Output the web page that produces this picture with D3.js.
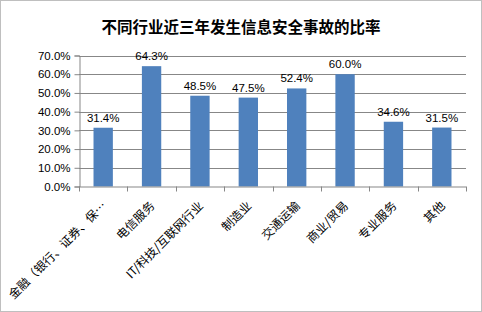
<!DOCTYPE html>
<html>
<head>
<meta charset="utf-8">
<script src="https://cdn.jsdelivr.net/npm/d3@7"></script>
<style>
  body { margin: 0; background: #fff; }
  svg { display: block; }
</style>
</head>
<body>
<div id="chart"></div>
<script>
// Data
var categories = ['金融（银行、证券、保…', '电信服务', 'IT/科技/互联网行业', '制造业', '交通运输', '商业/贸易', '专业服务', '其他'];
var values = [31.4, 64.3, 48.5, 47.5, 52.4, 60.0, 34.6, 31.5];
var yTicks = [0, 10, 20, 30, 40, 50, 60, 70];
var title = '不同行业近三年发生信息安全事故的比率';

var w = 482, h = 312;
var plotLeft = 79, plotRight = 466, plotTop = 55.5, plotBottom = 186.5;
var cjk = '"Noto Sans CJK SC", "Noto Sans", sans-serif';
var latin = '"Liberation Sans", Arial, sans-serif';

var svg = d3.select('#chart').append('svg')
    .attr('width', w)
    .attr('height', h)
;

// Border
svg.append('rect')
    .attr('x', 0.5).attr('y', 0.5)
    .attr('width', w - 1).attr('height', h - 1)
    .attr('fill', '#fff')
    .attr('stroke', '#bfbfbf')
;

// Title
svg.append('text')
    .attr('x', w / 2)
    .attr('y', 33)
    .attr('text-anchor', 'middle')
    .attr('font-family', cjk)
    .attr('font-weight', 'bold')
    .attr('font-size', '15.5px')
    .attr('fill', '#000')
    .text(title)
;

// Scales
var x = d3.scaleBand()
    .domain(categories)
    .range([plotLeft, plotRight])
    .paddingInner(0.6)
    .paddingOuter(0.3)
;
var y = d3.scaleLinear()
    .domain([0, 70])
    .range([plotBottom, plotTop])
;

// Grid
svg.append('g').selectAll('line')
    .data(yTicks.slice(1))
    .enter()
    .append('line')
    .attr('x1', plotLeft).attr('x2', plotRight)
    .attr('y1', function (d) { return Math.round(y(d)) + 0.5; })
    .attr('y2', function (d) { return Math.round(y(d)) + 0.5; })
    .attr('stroke', '#878787')
;

// Y axis
var yAxis = svg.append('g')
    .attr('transform', 'translate(' + (plotLeft + 0.5) + ',0)')
    .call(d3.axisLeft(y).tickValues(yTicks).tickSize(5).tickFormat(function (d) { return d.toFixed(1) + '%'; }))
;
yAxis.select('.domain').attr('stroke', '#878787');
yAxis.selectAll('.tick line').attr('stroke', '#878787');
yAxis.selectAll('.tick text')
    .attr('x', -9)
    .attr('font-family', latin)
    .attr('font-size', '11.5px')
    .attr('fill', '#000')
;

// Bars
svg.selectAll('rect.bar')
    .data(values)
    .enter()
    .append('rect')
    .attr('class', 'bar')
    .attr('x', function (d, i) { return x(categories[i]); })
    .attr('y', function (d) { return y(d); })
    .attr('width', x.bandwidth())
    .attr('height', function (d) { return y(0) - y(d); })
    .attr('fill', '#4f81bd')
;

// X axis
var step = (plotRight - plotLeft) / categories.length;
var xAxis = svg.append('g');
xAxis.append('line')
    .attr('x1', plotLeft).attr('x2', plotRight)
    .attr('y1', plotBottom + 0.5).attr('y2', plotBottom + 0.5)
    .attr('stroke', '#878787')
;
xAxis.selectAll('line.tk')
    .data(d3.range(categories.length + 1))
    .enter()
    .append('line')
    .attr('class', 'tk')
    .attr('x1', function (d) { return Math.round(plotLeft + d * step) + 0.5; })
    .attr('x2', function (d) { return Math.round(plotLeft + d * step) + 0.5; })
    .attr('y1', plotBottom).attr('y2', plotBottom + 5)
    .attr('stroke', '#878787')
;
xAxis.selectAll('text')
    .data(categories)
    .enter()
    .append('text')
    .attr('transform', function (d) {
        var cx = x(d) + x.bandwidth() / 2 + 1;
        return 'translate(' + cx + ',' + (plotBottom + 17) + ') rotate(-45)';
    })
    .attr('text-anchor', 'end')
    .attr('dy', '0.35em')
    .attr('font-family', cjk)
    .attr('font-size', '12px')
    .attr('fill', '#000')
    .text(function (d) { return d; })
;

// Value labels
svg.selectAll('text.val')
    .data(values)
    .enter()
    .append('text')
    .attr('class', 'val')
    .attr('x', function (d, i) { return x(categories[i]) + x.bandwidth() / 2; })
    .attr('y', function (d) { return y(d) - 6; })
    .attr('text-anchor', 'middle')
    .attr('font-family', latin)
    .attr('font-size', '11.5px')
    .attr('fill', '#000')
    .text(function (d) { return d.toFixed(1) + '%'; })
;
</script>
</body>
</html>
